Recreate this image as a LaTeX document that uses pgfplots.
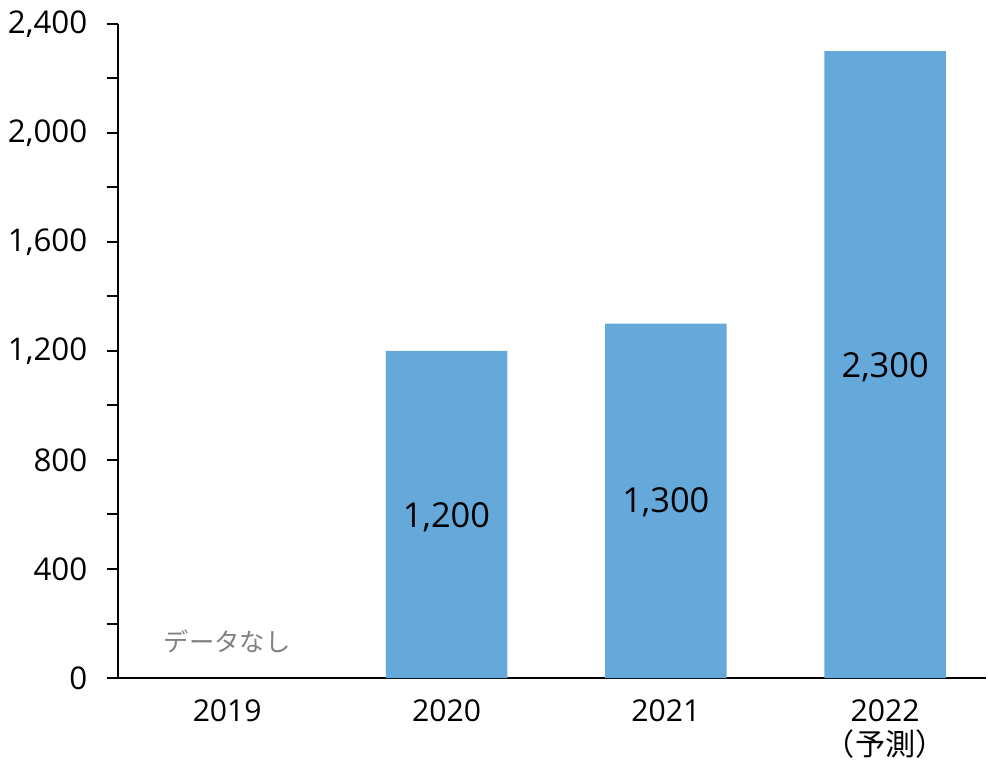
\documentclass[border=0pt]{standalone}
\usepackage{fontspec}
\setmainfont{Open Sans}
\newfontfamily\jp{Noto Sans CJK JP}
\usepackage{pgfplots}
\pgfplotsset{compat=1.18}
\definecolor{barblue}{RGB}{101,169,219}
\definecolor{natext}{RGB}{128,128,128}
\begin{document}
\begin{tikzpicture}
\begin{axis}[
  name=ax,
  scale only axis, width=651pt, height=490.5pt,
  xmin=-0.498, xmax=3.46, ymin=0, ymax=2400,
  axis lines*=left,
  axis line style={line width=1.5pt, black, -},
  ytick={0,400,...,2400}, minor y tick num=1,
  tick align=outside, major tick length=8.5pt, minor tick length=8.5pt,
  y tick style={line width=1.5pt, black},
  xtick={0,1,2,3},
  xticklabels={2019,2020,2021,{2022\\{\jp （予測）}}},
  x tick style={draw=none},
  xticklabel style={align=center, font=\fontsize{22.6}{25}\selectfont, yshift=-4.5pt},
  yticklabel style={font=\fontsize{23.5}{26}\selectfont, xshift=-11pt},
  /pgf/number format/1000 sep={,},
  /pgf/number format/assume math mode=true,
  scaled y ticks=false,
  clip=false,
]
\addplot[ybar, bar width=0.554, fill=barblue, draw=none]
  coordinates {(1,1200) (2,1300) (3,2300)};
\addplot[draw=none, nodes near coords, point meta=explicit symbolic,
  every node near coord/.append style={anchor=center, font=\fontsize{25.8}{30}\selectfont, text=black}]
  coordinates {(1,590) [1{,}200] (2,645) [1{,}300] (3,1140) [2{,}300]};
\addplot[draw=none, nodes near coords, point meta=explicit symbolic,
  every node near coord/.append style={anchor=center, font=\jp\fontsize{19}{22}\selectfont, text=natext}]
  coordinates {(0,135) [データなし]};
\end{axis}
\path (ax.south west) ++(-88.5pt,-63.75pt) coordinate (bl);
\path (ax.north east) ++(1.5pt,18pt) coordinate (tr);
\path (bl) rectangle (tr);
\end{tikzpicture}
\end{document}
